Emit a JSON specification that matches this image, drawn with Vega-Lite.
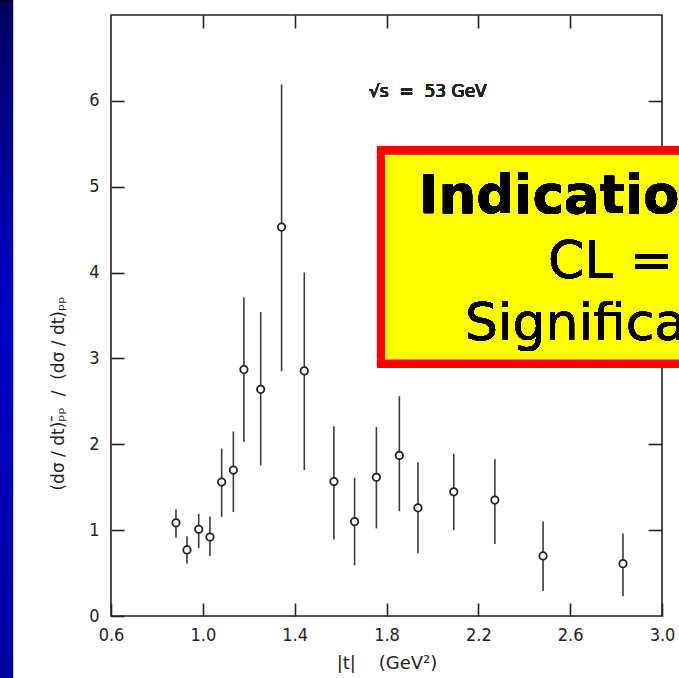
{
  "$schema": "https://vega.github.io/schema/vega-lite/v6.json",
  "width": 551,
  "height": 601,
  "autosize": {"type": "none"},
  "padding": {"left": 111, "top": 15, "right": 17, "bottom": 62},
  "background": "white",
  "config": {
    "view": {"stroke": "#222", "strokeWidth": 1.6},
    "axis": {"domain": false, "grid": false, "tickColor": "#222", "tickWidth": 1.6, "labelColor": "#222", "titleColor": "#222", "labelFont": "DejaVu Sans Condensed, DejaVu Sans", "titleFont": "DejaVu Sans", "titleFontWeight": "normal"}
  },
  "data": {"values": [
    {"t": 0.883, "r": 1.085, "lo": 0.91, "hi": 1.24},
    {"t": 0.931, "r": 0.77, "lo": 0.61, "hi": 0.93},
    {"t": 0.982, "r": 1.01, "lo": 0.79, "hi": 1.19},
    {"t": 1.031, "r": 0.92, "lo": 0.70, "hi": 1.16},
    {"t": 1.082, "r": 1.56, "lo": 1.155, "hi": 1.95},
    {"t": 1.133, "r": 1.70, "lo": 1.21, "hi": 2.15},
    {"t": 1.179, "r": 2.87, "lo": 2.03, "hi": 3.71},
    {"t": 1.252, "r": 2.64, "lo": 1.755, "hi": 3.54},
    {"t": 1.343, "r": 4.53, "lo": 2.85, "hi": 6.19},
    {"t": 1.442, "r": 2.855, "lo": 1.70, "hi": 4.0},
    {"t": 1.571, "r": 1.566, "lo": 0.89, "hi": 2.21},
    {"t": 1.661, "r": 1.10, "lo": 0.59, "hi": 1.61},
    {"t": 1.756, "r": 1.616, "lo": 1.02, "hi": 2.20},
    {"t": 1.856, "r": 1.87, "lo": 1.22, "hi": 2.56},
    {"t": 1.937, "r": 1.26, "lo": 0.73, "hi": 1.79},
    {"t": 2.093, "r": 1.446, "lo": 1.0, "hi": 1.89},
    {"t": 2.272, "r": 1.35, "lo": 0.84, "hi": 1.83},
    {"t": 2.482, "r": 0.70, "lo": 0.29, "hi": 1.10},
    {"t": 2.83, "r": 0.61, "lo": 0.23, "hi": 0.96}
  ]},
  "resolve": {"axis": {"x": "independent", "y": "independent"}},
  "layer": [
    {
      "mark": {"type": "rect", "stroke": null, "fill": {"gradient": "linear", "x1": 0, "y1": 0, "x2": 0, "y2": 1, "stops": [{"offset": 0, "color": "#000000"}, {"offset": 0.004, "color": "#000060"}, {"offset": 0.45, "color": "#0000C8"}, {"offset": 1, "color": "#0000A0"}]}},
      "encoding": {
        "x": {"datum": 0.1166, "type": "quantitative", "axis": null, "scale": {"domain": [0.6, 3.0], "nice": false, "zero": false}},
        "x2": {"datum": 0.1732},
        "y": {"datum": 7.175, "type": "quantitative", "axis": null, "scale": {"domain": [0, 7], "nice": false, "zero": false}},
        "y2": {"datum": -0.722}
      }
    },
    {
      "mark": {"type": "rule", "color": "#3a3a3a", "strokeWidth": 1.6},
      "encoding": {
        "x": {"field": "t", "type": "quantitative", "scale": {"domain": [0.6, 3.0], "nice": false, "zero": false},
          "axis": {"orient": "bottom", "values": [0.6, 1.0, 1.4, 1.8, 2.2, 2.6, 3.0], "format": ".1f", "tickSize": -13, "labelPadding": 23, "labelFontSize": 18, "labelFlush": false, "title": "|t|\u00a0\u00a0\u00a0\u00a0(GeV²)", "titleFontSize": 18, "titleY": 52, "titleBaseline": "alphabetic"}},
        "y": {"field": "lo", "type": "quantitative", "scale": {"domain": [0, 7], "nice": false, "zero": false},
          "axis": {"orient": "left", "values": [0, 1, 2, 3, 4, 5, 6], "format": "d", "tickSize": -13, "labelPadding": 25, "labelFontSize": 18, "labelFlush": false, "title": "(dσ / dt)ₚ̄ₚ\u00a0\u00a0/\u00a0\u00a0(dσ / dt)ₚₚ", "titleFontSize": 17, "titleAngle": -90, "titleX": -53, "titleY": 378, "titleAlign": "center", "titleBaseline": "middle"}},
        "y2": {"field": "hi"}
      }
    },
    {
      "mark": {"type": "point", "shape": "circle", "filled": true, "fill": "white", "stroke": "#222", "strokeWidth": 1.8, "size": 55, "opacity": 1},
      "encoding": {
        "x": {"field": "t", "type": "quantitative", "scale": {"domain": [0.6, 3.0], "nice": false, "zero": false},
          "axis": {"orient": "top", "values": [1.0, 1.4, 1.8, 2.2, 2.6], "labels": false, "tickSize": -13, "title": null}},
        "y": {"field": "r", "type": "quantitative", "scale": {"domain": [0, 7], "nice": false, "zero": false},
          "axis": {"orient": "right", "values": [1, 2, 3, 4, 5, 6], "labels": false, "tickSize": -14, "title": null}}
      }
    },
    {
      "mark": {"type": "text", "text": "√s\u00a0\u00a0=\u00a0\u00a053\u00a0GeV", "font": "DejaVu Sans", "fontSize": 17, "color": "#222", "align": "center", "baseline": "middle"},
      "encoding": {
        "x": {"datum": 1.98, "type": "quantitative", "axis": null},
        "y": {"datum": 6.106, "type": "quantitative", "axis": null}
      }
    },
    {
      "mark": {"type": "rect", "fill": "#FFFF00", "stroke": "#FF0000", "strokeWidth": 8},
      "encoding": {
        "x": {"datum": 1.776, "type": "quantitative", "axis": null},
        "x2": {"datum": 3.3},
        "y": {"datum": 5.419, "type": "quantitative", "axis": null},
        "y2": {"datum": 2.94}
      }
    },
    {
      "mark": {"type": "text", "text": "Indication", "font": "DejaVu Sans", "fontWeight": "bold", "fontSize": 53, "color": "black", "align": "left", "baseline": "alphabetic"},
      "encoding": {
        "x": {"datum": 1.941, "type": "quantitative", "axis": null},
        "y": {"datum": 4.697, "type": "quantitative", "axis": null}
      }
    },
    {
      "mark": {"type": "text", "text": "CL =", "font": "DejaVu Sans", "fontSize": 52, "color": "black", "align": "left", "baseline": "alphabetic"},
      "encoding": {
        "x": {"datum": 2.503, "type": "quantitative", "axis": null},
        "y": {"datum": 3.941, "type": "quantitative", "axis": null}
      }
    },
    {
      "mark": {"type": "text", "text": "Significance", "font": "DejaVu Sans", "fontSize": 52, "color": "black", "align": "left", "baseline": "alphabetic"},
      "encoding": {
        "x": {"datum": 2.142, "type": "quantitative", "axis": null},
        "y": {"datum": 3.219, "type": "quantitative", "axis": null}
      }
    }
  ]
}
